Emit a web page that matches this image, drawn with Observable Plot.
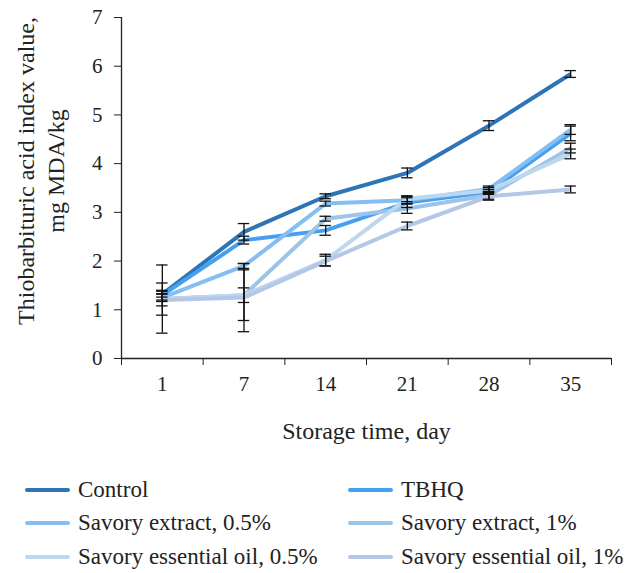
<!DOCTYPE html>
<html>
<head>
<meta charset="utf-8">
<script src="https://cdn.jsdelivr.net/npm/d3@7"></script>
<script src="https://cdn.jsdelivr.net/npm/@observablehq/plot@0.6"></script>
<style>
  html, body { margin: 0; padding: 0; background: #fff; }
  body { width: 626px; height: 573px; position: relative; overflow: hidden; font-family: 'Liberation Serif', 'Times New Roman', serif; }
  #legend { position: absolute; left: 25px; top: 473px; display: grid; grid-template-columns: 323px 300px; grid-auto-rows: 33.5px; font-size: 23px; color: #222; }
  .item { display: flex; align-items: center; white-space: nowrap; }
  .sw { width: 45px; height: 4px; border-radius: 2px; margin-right: 8px; }
</style>
</head>
<body>
<div id="chart"></div>
<div id="legend"></div>
<script>
const days = ["1", "7", "14", "21", "28", "35"];
const seriesNames = ["Control", "TBHQ", "Savory extract, 0.5%", "Savory extract, 1%", "Savory essential oil, 0.5%", "Savory essential oil, 1%"];
const seriesColors = ["#2E75B6", "#45A0F2", "#85BEF3", "#9DC3E6", "#BDD7EE", "#B4C7E7"];
const yTicks = [0, 1, 2, 3, 4, 5, 6, 7];

const control   = [1.32, 2.60, 3.33, 3.81, 4.78, 5.84];
const tbhq      = [1.30, 2.43, 2.63, 3.20, 3.42, 4.62];
const se05      = [1.25, 1.90, 3.18, 3.25, 3.48, 4.70];
const se1       = [1.22, 1.30, 2.87, 3.08, 3.35, 4.32];
const seo05     = [1.22, 1.30, 2.02, 3.28, 3.45, 4.20];
const seo1      = [1.20, 1.25, 2.00, 2.72, 3.33, 3.47];

const controlErr = [0.06, 0.17, 0.05, 0.10, 0.10, 0.07];
const tbhqErr    = [0.10, 0.08, 0.10, 0.10, 0.05, 0.15];
const se05Err    = [0.08, 0.05, 0.05, 0.08, 0.06, 0.10];
const se1Err     = [0.33, 0.15, 0.05, 0.10, 0.08, 0.10];
const seo05Err   = [0.70, 0.52, 0.12, 0.06, 0.06, 0.10];
const seo1Err    = [0.12, 0.70, 0.10, 0.08, 0.08, 0.07];

const values = [control, tbhq, se05, se1, seo05, seo1];
const errors = [controlErr, tbhqErr, se05Err, se1Err, seo05Err, seo1Err];

const data = [];
values.forEach((arr, s) => arr.forEach((v, i) => data.push({
  series: seriesNames[s], pos: i + 0.5, day: days[i], value: v, err: errors[s][i]
})));

const capHalf = 0.07;
const font = "Liberation Serif";

const chart = Plot.plot({
  width: 626,
  height: 460,
  marginLeft: 121,
  marginRight: 15,
  marginTop: 17,
  marginBottom: 102,
  style: "font-family: 'Liberation Serif', 'Times New Roman', serif; font-size: 21px; color: #222; background: #fff;",
  x: { domain: [0, days.length] },
  y: { domain: [0, 7] },
  color: { domain: seriesNames, range: seriesColors },
  marks: [
    Plot.line(data, { x: "pos", y: "value", z: "series", stroke: "series", strokeWidth: 4, strokeLinejoin: "round", strokeLinecap: "butt" }),
    Plot.ruleX(data, { x: "pos", y1: d => d.value - d.err, y2: d => d.value + d.err, stroke: "#111", strokeWidth: 1.3 }),
    Plot.ruleY(data, { y: d => d.value + d.err, x1: d => d.pos - capHalf, x2: d => d.pos + capHalf, stroke: "#111", strokeWidth: 1.3 }),
    Plot.ruleY(data, { y: d => d.value - d.err, x1: d => d.pos - capHalf, x2: d => d.pos + capHalf, stroke: "#111", strokeWidth: 1.3 }),
    Plot.ruleX([0], { stroke: "#222", strokeWidth: 1.3 }),
    Plot.ruleY([0], { stroke: "#222", strokeWidth: 1.3 }),
    Plot.axisY({ ticks: yTicks, tickSize: 7, tickPadding: 12, tickFormat: d => String(d), label: null, stroke: "#222", fontSize: 21, fontFamily: font }),
    Plot.axisX({ ticks: d3.range(0, days.length + 1), tickSize: 7, tickFormat: () => "", label: null, stroke: "#222" }),
    Plot.axisX({ ticks: days.map((d, i) => i + 0.5), tickSize: 0, tickPadding: 18, tickFormat: d => days[Math.floor(d)], label: null, fontSize: 21, fontFamily: font }),
    Plot.text(["Storage time, day"], { frameAnchor: "bottom", dy: 80, fontSize: 24, fontFamily: font, fill: "#222" }),
    Plot.text(["Thiobarbituric acid index value,\nmg MDA/kg"], { frameAnchor: "left", textAnchor: "middle", dx: -82, dy: -17, rotate: -90, fontSize: 24, lineHeight: 1.25, fontFamily: font, fill: "#222" })
  ]
});
document.getElementById("chart").appendChild(chart);

const legend = document.getElementById("legend");
seriesNames.forEach((name, i) => {
  const item = document.createElement("div");
  item.className = "item";
  const sw = document.createElement("span");
  sw.className = "sw";
  sw.style.background = seriesColors[i];
  const t = document.createElement("span");
  t.textContent = name;
  item.appendChild(sw);
  item.appendChild(t);
  legend.appendChild(item);
});
</script>
</body>
</html>
